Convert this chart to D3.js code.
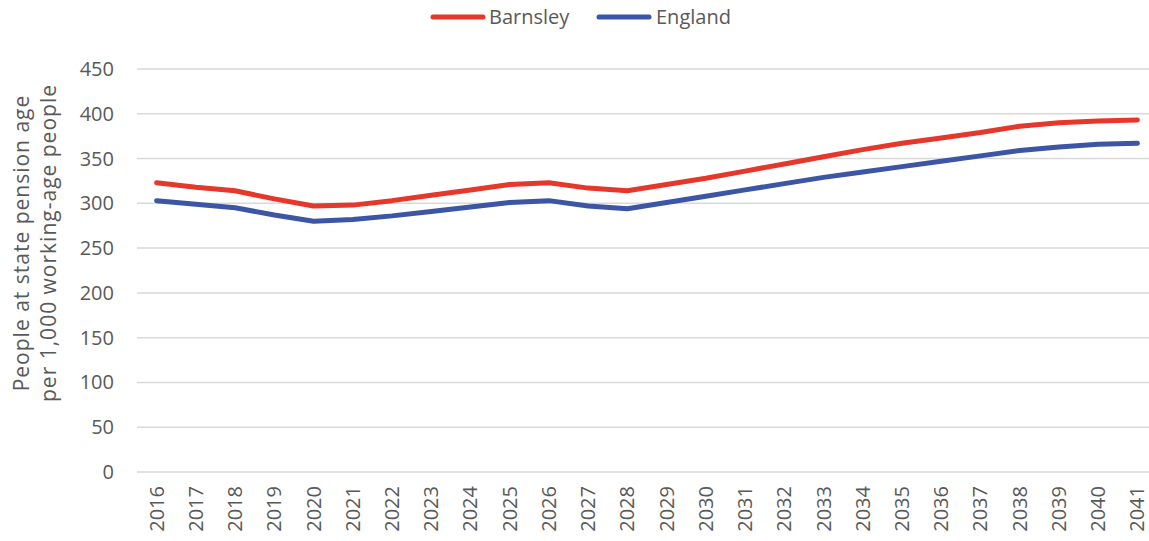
<!DOCTYPE html>
<html>
<head>
<meta charset="utf-8">
<script src="https://cdn.jsdelivr.net/npm/d3@7"></script>
<style>
  body { margin: 0; background: #fff; }
  text { font-family: "Open Sans", sans-serif; fill: #595959; }
</style>
</head>
<body>
<svg id="chart" width="1149" height="541"></svg>
<script>
var years = ["2016","2017","2018","2019","2020","2021","2022","2023","2024","2025","2026","2027","2028",
             "2029","2030","2031","2032","2033","2034","2035","2036","2037","2038","2039","2040","2041"];
var barnsley = [323, 318, 314, 305, 297, 298, 303, 309, 315, 321, 323, 317, 314,
                321, 328, 336, 344, 352, 360, 367, 373, 379, 386, 390, 392, 393];
var england = [303, 299, 295, 287, 280, 282, 286, 291, 296, 301, 303, 297, 294,
               301, 308, 315, 322, 329, 335, 341, 347, 353, 359, 363, 366, 367];
var yTicks = [0, 50, 100, 150, 200, 250, 300, 350, 400, 450];
var seriesNames = ["Barnsley", "England"];
var seriesColors = ["#e5372a", "#3c55a5"];

var svg = d3.select("#chart");
var plotLeft = 137, plotRight = 1157, plotTop = 69, plotBottom = 472;

var x = d3.scaleBand().domain(years).range([plotLeft, plotRight]);
var y = d3.scaleLinear().domain([0, 450]).range([plotBottom, plotTop]);

// gridlines
svg.append("g").selectAll("line")
  .data(yTicks).enter().append("line")
  .attr("x1", plotLeft).attr("x2", plotRight)
  .attr("y1", function(d) { return y(d); })
  .attr("y2", function(d) { return y(d); })
  .attr("stroke", "#d9d9d9").attr("stroke-width", 1.5);

// y tick labels
svg.append("g").selectAll("text")
  .data(yTicks).enter().append("text")
  .attr("x", 114)
  .attr("y", function(d) { return y(d); })
  .attr("dy", "0.35em")
  .attr("text-anchor", "end")
  .style("font-size", "20px")
  .text(function(d) { return d; });

// x tick labels (rotated)
svg.append("g").selectAll("text")
  .data(years).enter().append("text")
  .attr("transform", function(d) {
    return "translate(" + (x(d) + x.bandwidth() / 2) + ",486) rotate(-90)";
  })
  .attr("dy", "0.35em")
  .attr("text-anchor", "end")
  .style("font-size", "20px")
  .text(function(d) { return d; });

// y axis title
var title = svg.append("text")
  .attr("transform", "translate(29,243) rotate(-90)")
  .attr("text-anchor", "middle")
  .style("font-size", "21px")
  .style("letter-spacing", "1px");
title.append("tspan").attr("x", 0).attr("dy", 0).text("People at state pension age");
title.append("tspan").attr("x", 0).attr("dy", 27).text("per 1,000 working-age people");

// lines
var line = d3.line()
  .x(function(d, i) { return x(years[i]) + x.bandwidth() / 2; })
  .y(function(d) { return y(d); });

[barnsley, england].forEach(function(s, i) {
  svg.append("path")
    .datum(s)
    .attr("d", line)
    .attr("fill", "none")
    .attr("stroke", seriesColors[i])
    .attr("stroke-width", 5)
    .attr("stroke-linecap", "round")
    .attr("stroke-linejoin", "round");
});

// legend
var legendPos = [[431, 489], [597, 656]];
seriesNames.forEach(function(name, i) {
  var g = svg.append("g");
  g.append("line")
    .attr("x1", legendPos[i][0] + 2).attr("x2", legendPos[i][0] + 52)
    .attr("y1", 17).attr("y2", 17)
    .attr("stroke", seriesColors[i]).attr("stroke-width", 5)
    .attr("stroke-linecap", "round");
  g.append("text")
    .attr("x", legendPos[i][1])
    .attr("y", 17).attr("dy", "0.35em")
    .style("font-size", "20px")
    .text(name);
});
</script>
</body>
</html>
